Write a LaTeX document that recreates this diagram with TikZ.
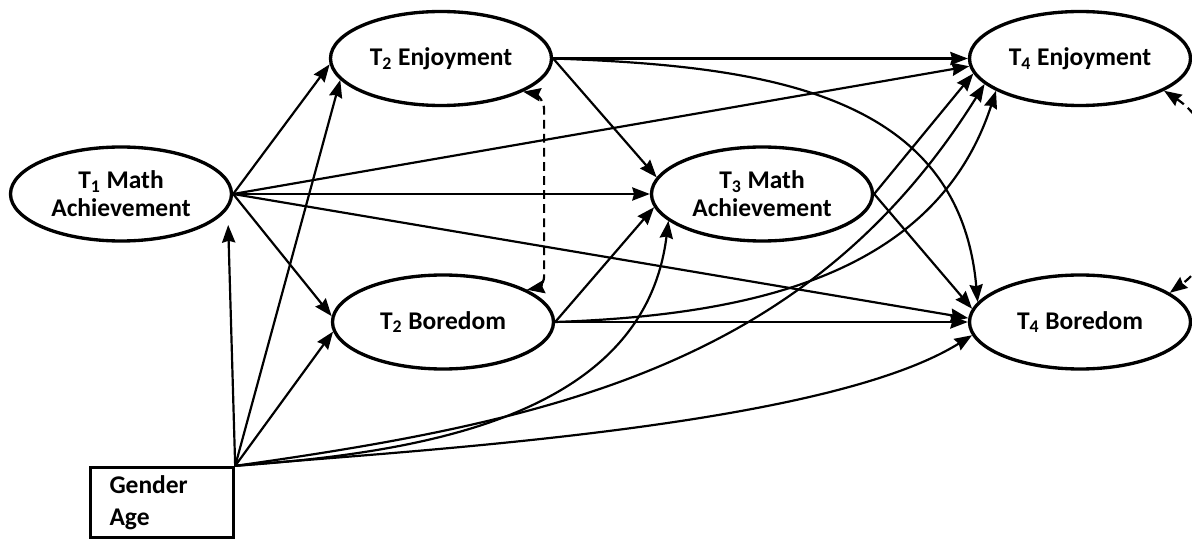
\documentclass[tikz,border=0pt]{standalone}
\usepackage{fontspec}
\setmainfont{Carlito}
\usetikzlibrary{arrows.meta,shapes.geometric,positioning}
\tikzset{>={Stealth[length=10pt,width=7.5pt,inset=1pt]}}
\tikzset{latent/.style={draw,ellipse,line width=1.9pt,minimum width=4.42cm,minimum height=1.88cm,inner sep=0pt,align=center,font=\fontsize{14.5}{16}\selectfont\bfseries}}
\tikzset{observed/.style={draw,rectangle,line width=1.9pt,minimum height=1.4cm,inner xsep=0.38cm,text width=2.1cm,align=left,font=\fontsize{14.5}{18}\selectfont\bfseries}}
\tikzset{effect/.style={->,line width=1.25pt}}
\tikzset{covar/.style={<->,dash pattern=on 5pt off 3pt,line width=1.25pt}}

\begin{document}
\begin{tikzpicture}
		\useasboundingbox (0,0) rectangle (23.84,10.82);
		\node[latent] (t1) at (2.42,6.94) {T\textsubscript{1} Math\\Achievement};
		\node[latent] (e2) at (8.82,9.65) {T\textsubscript{2} Enjoyment};
		\node[latent] (b2) at (8.86,4.38) {T\textsubscript{2} Boredom};
		\node[latent] (m3) at (15.24,6.94) {T\textsubscript{3} Math\\Achievement};
		\node[latent] (e4) at (21.6,9.65) {T\textsubscript{4} Enjoyment};
		\node[latent] (b4) at (21.6,4.38) {T\textsubscript{4} Boredom};
		\node[observed] (g) at (3.24,0.77) {Gender\\Age};
		\draw[effect] (t1.east) -- (e2.183);
		\draw[effect] (t1.east) -- (b2.177);
		\draw[effect] (t1.east) -- (m3.west);
		\draw[effect] (t1.east) -- (e4.184);
		\draw[effect] (t1.east) -- (b4.178);
		\draw[effect,shorten >=0.32cm] (g.north east) -- (t1.-8);
		\draw[effect] (g.north east) -- (e2.192);
		\draw[effect] (g.north east) -- (b2.185);
		\draw[effect] (g.north east) to[out=4,in=-97] (m3.196);
		\draw[effect] (g.north east) to[out=8,in=-122] (e4.195);
		\draw[effect] (g.north east) to[out=5,in=-148,looseness=0.6] (b4.187);
		\draw[effect] (e2.east) -- (e4.west);
		\draw[effect] (e2.east) -- (m3.171);
		\draw[effect] (e2.east) to[out=-2,in=95,looseness=1.1] (b4.169);
		\draw[effect] (b2.east) -- (m3.187);
		\draw[effect] (b2.east) -- (b4.west);
		\draw[effect] (b2.east) to[out=2,in=-108] (e4.201);
		\draw[effect] (m3.east) -- (e4.188);
		\draw[effect] (m3.east) -- (b4.173);
		\draw[covar] (e2.-22) to[out=-10,in=90] ++(0.42,-0.35) -- ++(0,-3.35) to[out=-90,in=10] (b2.21);
		\draw[covar] (e4.-21) to[out=-33,in=36] (b4.18);
		\end{tikzpicture}
\end{document}
